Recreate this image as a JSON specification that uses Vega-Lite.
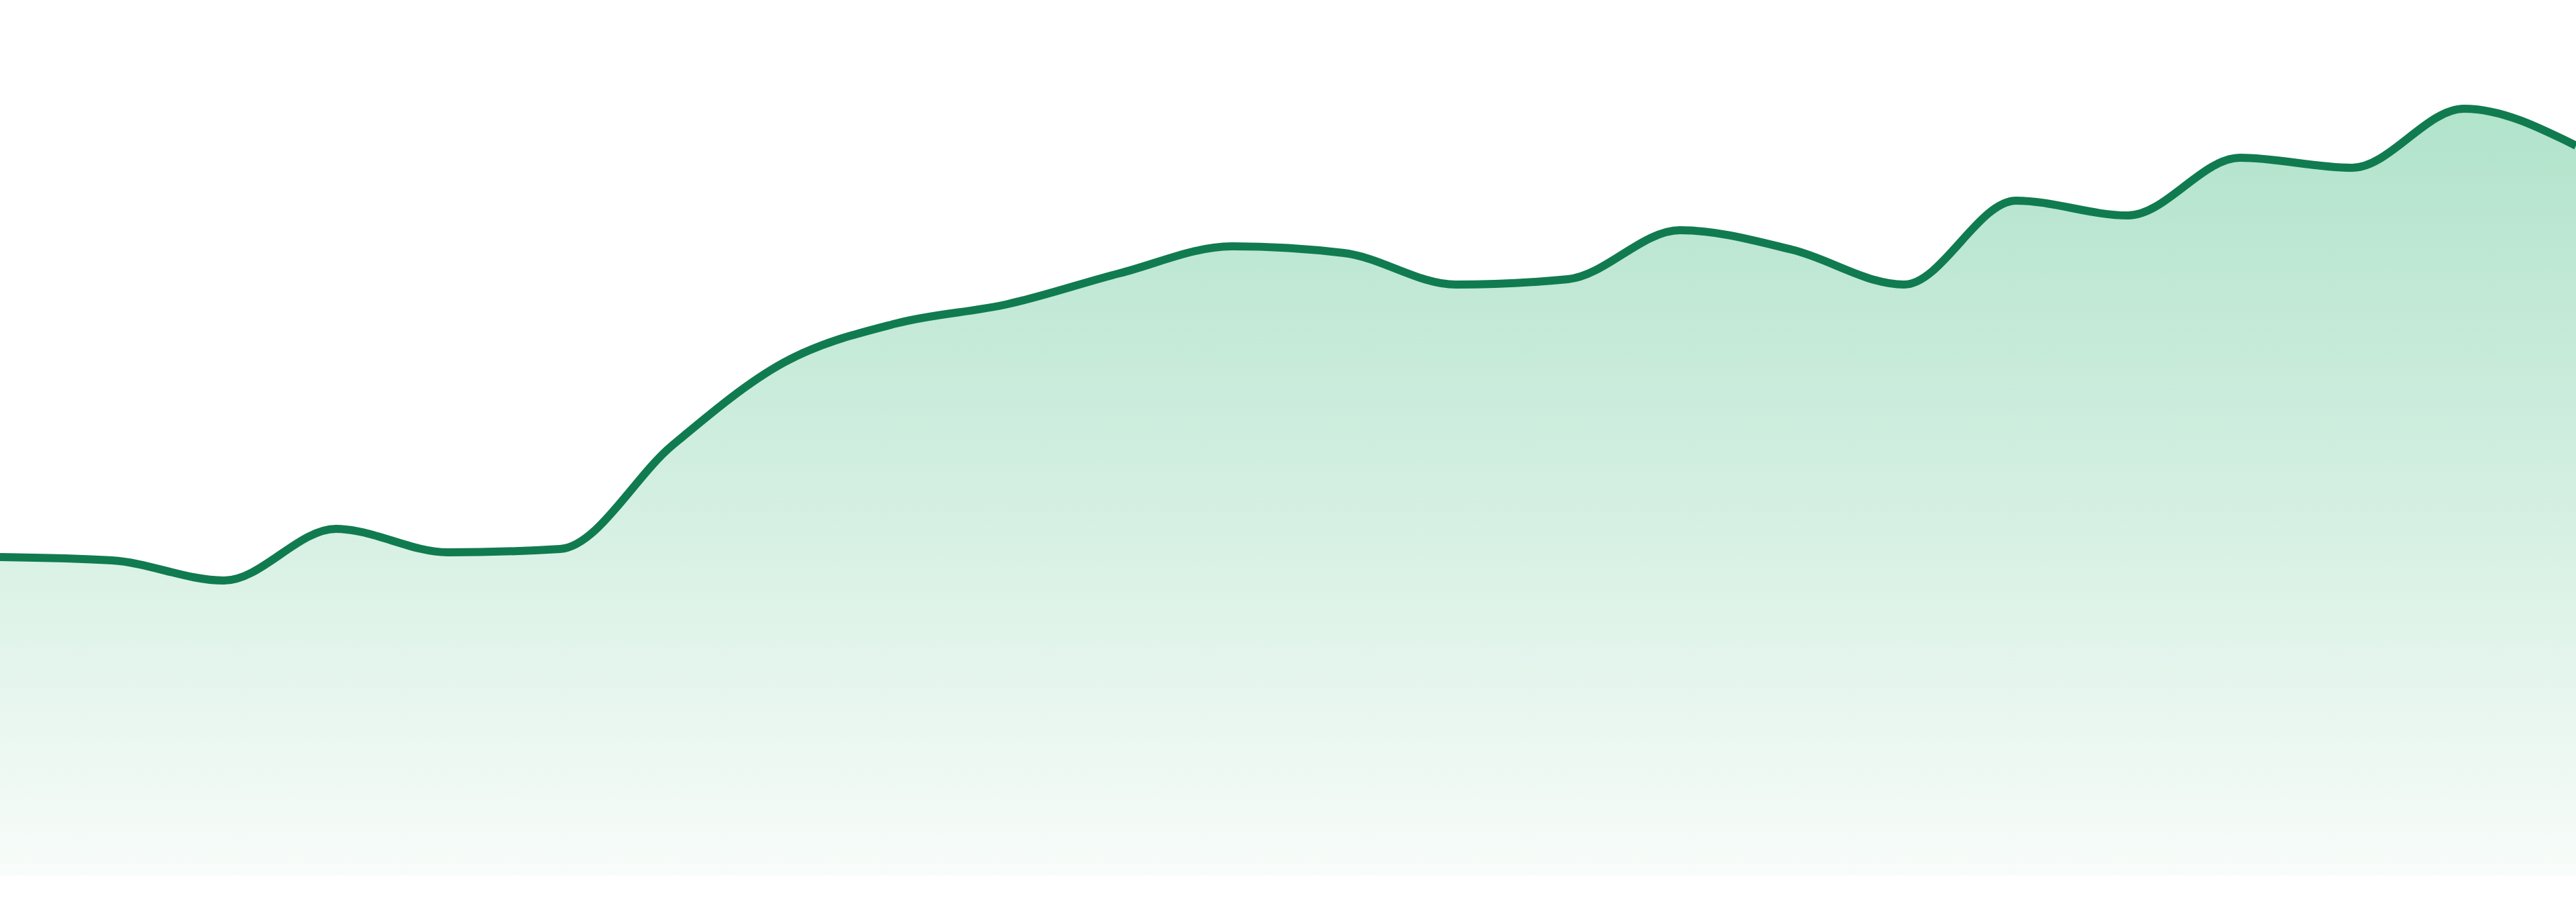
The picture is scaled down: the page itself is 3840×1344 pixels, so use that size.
{
  "$schema": "https://vega.github.io/schema/vega-lite/v6.json",
  "width": 3840,
  "height": 1305,
  "autosize": {"type": "none"},
  "padding": {"left": 0, "right": 0, "top": 0, "bottom": 39},
  "background": "white",
  "config": {"view": {"stroke": null}},
  "data": {
    "values": [
      {"i": 0, "value": 47.5},
      {"i": 1, "value": 47.0},
      {"i": 2, "value": 44.0},
      {"i": 3, "value": 51.7},
      {"i": 4, "value": 48.2},
      {"i": 5, "value": 48.7},
      {"i": 6, "value": 64.1},
      {"i": 7, "value": 76.5},
      {"i": 8, "value": 82.3},
      {"i": 9, "value": 85.2},
      {"i": 10, "value": 89.8},
      {"i": 11, "value": 93.8},
      {"i": 12, "value": 92.8},
      {"i": 13, "value": 88.1},
      {"i": 14, "value": 88.9},
      {"i": 15, "value": 96.2},
      {"i": 16, "value": 93.3},
      {"i": 17, "value": 88.1},
      {"i": 18, "value": 100.6},
      {"i": 19, "value": 98.4},
      {"i": 20, "value": 107.0},
      {"i": 21, "value": 105.5},
      {"i": 22, "value": 114.3},
      {"i": 23, "value": 108.8}
    ]
  },
  "encoding": {
    "x": {"field": "i", "type": "quantitative", "axis": null, "scale": {"domain": [0, 23], "nice": false, "zero": false}},
    "y": {"field": "value", "type": "quantitative", "axis": null, "scale": {"domain": [0, 130.5], "nice": false}}
  },
  "layer": [
    {
      "mark": {
        "type": "area",
        "interpolate": "monotone",
        "color": {
          "gradient": "linear",
          "x1": 0, "y1": 0, "x2": 0, "y2": 1,
          "stops": [
            {"offset": 0, "color": "#b1e3cb"},
            {"offset": 0.5, "color": "#d3efe1"},
            {"offset": 1, "color": "#f8fcfa"}
          ]
        }
      }
    },
    {
      "mark": {"type": "line", "interpolate": "monotone", "color": "#117b50", "strokeWidth": 12}
    }
  ]
}
